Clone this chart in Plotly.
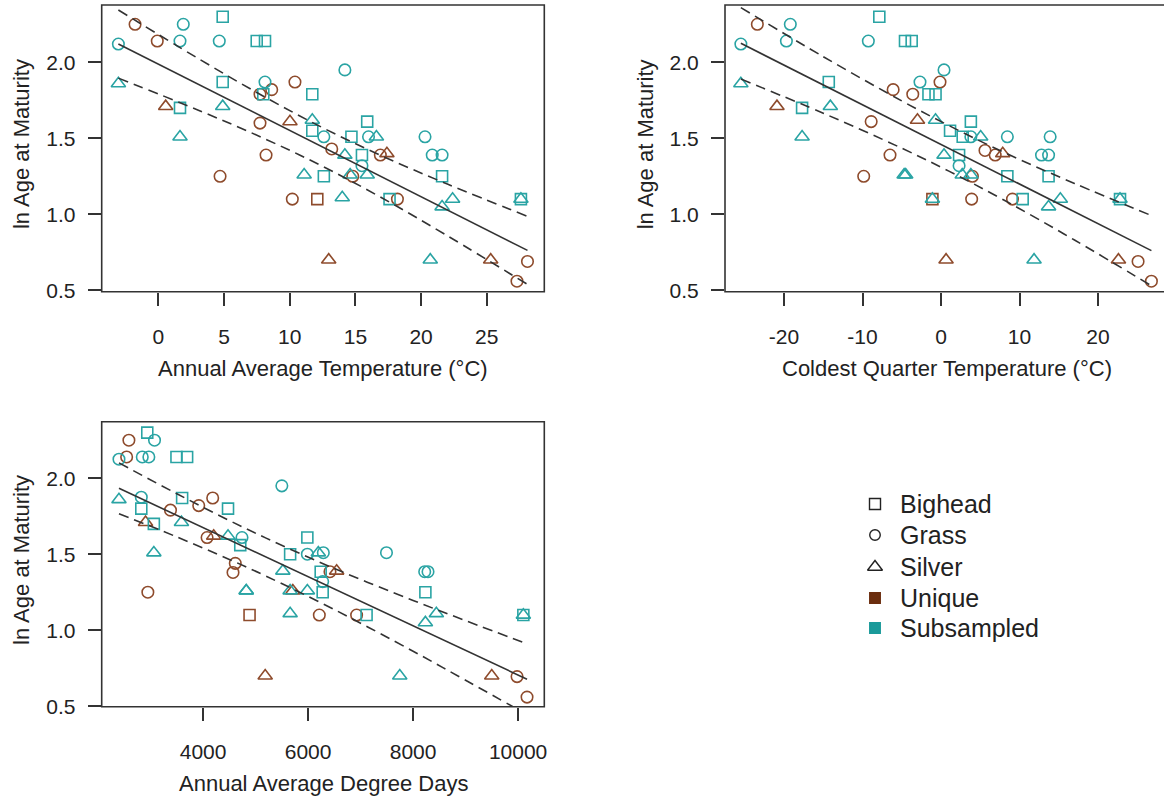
import plotly.graph_objects as go

W, H = 1164, 798

# ---------------- data ----------------
# Panel 1: Annual Average Temperature (°C)
p1_x = [-3.04, -1.77, -0.08, 1.65, 1.90, 4.64, 4.90, 7.49, 8.12, 14.2, 10.4, 8.12, 4.90, 11.72,
        8.63, 7.74, 7.99, -3.04, 0.56, 1.65, 4.90, 1.65, 7.74, 10.02, 11.72, 11.72, 8.2, 4.70,
        12.6, 13.2, 11.1, 12.6, 10.2, 12.1, 14.0, 12.97, 14.7, 15.9, 16.0, 16.6, 14.2, 15.5,
        15.5, 16.9, 17.4, 14.6, 14.8, 15.9, 17.6, 18.2, 22.4, 21.6, 21.6, 20.3, 20.85, 21.6,
        27.6, 27.6, 20.7, 25.3, 28.1, 27.3]
p1_y = [2.12, 2.25, 2.14, 2.14, 2.25, 2.14, 2.30, 2.14, 2.14, 1.95, 1.87, 1.87, 1.87, 1.79,
        1.82, 1.79, 1.79, 1.86, 1.71, 1.70, 1.71, 1.51, 1.60, 1.61, 1.62, 1.55, 1.39, 1.25,
        1.51, 1.43, 1.26, 1.25, 1.10, 1.10, 1.11, 0.70, 1.51, 1.61, 1.51, 1.51, 1.39, 1.39,
        1.32, 1.39, 1.40, 1.26, 1.25, 1.26, 1.10, 1.10, 1.10, 1.05, 1.25, 1.51, 1.39, 1.39,
        1.10, 1.10, 0.70, 0.70, 0.69, 0.56]
p1_species = ["G", "G", "G", "G", "G", "G", "B", "B", "B", "G", "G", "G", "B", "B",
              "G", "G", "B", "S", "S", "B", "S", "S", "G", "S", "S", "B", "G", "G",
              "G", "G", "S", "B", "G", "B", "S", "S", "B", "B", "G", "S", "S", "B",
              "G", "G", "S", "S", "G", "S", "B", "G", "S", "S", "B", "G", "G", "G",
              "B", "S", "S", "S", "G", "G"]
p1_source = ["Sub", "Uni", "Uni", "Sub", "Sub", "Sub", "Sub", "Sub", "Sub", "Sub", "Uni", "Sub", "Sub", "Sub",
             "Uni", "Uni", "Sub", "Sub", "Uni", "Sub", "Sub", "Sub", "Uni", "Uni", "Sub", "Sub", "Uni", "Uni",
             "Sub", "Uni", "Sub", "Sub", "Uni", "Uni", "Sub", "Uni", "Sub", "Sub", "Sub", "Sub", "Sub", "Sub",
             "Sub", "Uni", "Uni", "Sub", "Uni", "Sub", "Sub", "Uni", "Sub", "Sub", "Sub", "Sub", "Sub", "Sub",
             "Sub", "Sub", "Sub", "Uni", "Uni", "Uni"]
p1_fit_x = [-3.04, 28.1]
p1_fit_y = [2.12, 0.763]
p1_band_x = [-3.04, 3.0, 8.0, 12.5, 17.0, 22.0, 28.1]
p1_upper = [2.344, 2.027, 1.777, 1.570, 1.385, 1.199, 0.987]
p1_lower = [1.896, 1.687, 1.501, 1.316, 1.109, 0.859, 0.539]

# Panel 2: Coldest Quarter Temperature (°C)
p2_x = [-25.5, -23.4, -19.2, -19.7, -9.26, -7.86, -4.59, -3.74, -2.68, -1.6, -0.7, -6.1, -3.6,
        -25.5, -20.9, -17.7, -14.3, -14.1, -17.7, -8.9, -3.0, -6.5, -9.85, -4.7, -4.5,
        0.38, -0.13, -0.7, 1.15, 3.8, 2.76, 3.8, 5.05, 8.45, 13.9, 5.6, 6.9, 7.86, 0.38,
        2.3, 2.3, 2.7, 3.8, 4.0, 8.45, 13.7, 12.8, 13.7, -1.1, -1.1, 3.9, 9.1, 10.4, 15.2,
        13.7, 22.8, 22.8, 0.64, 11.85, 22.6, 25.1, 26.8]
p2_y = [2.12, 2.25, 2.25, 2.14, 2.14, 2.30, 2.14, 2.14, 1.87, 1.79, 1.79, 1.82, 1.79,
        1.86, 1.71, 1.70, 1.87, 1.71, 1.51, 1.61, 1.62, 1.39, 1.25, 1.26, 1.26,
        1.95, 1.87, 1.62, 1.55, 1.61, 1.51, 1.51, 1.51, 1.51, 1.51, 1.42, 1.39, 1.40, 1.39,
        1.39, 1.32, 1.26, 1.26, 1.25, 1.25, 1.25, 1.39, 1.39, 1.10, 1.10, 1.10, 1.10, 1.10, 1.10,
        1.05, 1.10, 1.10, 0.70, 0.70, 0.70, 0.69, 0.56]
p2_species = ["G", "G", "G", "G", "G", "B", "B", "B", "G", "B", "B", "G", "G",
              "S", "S", "B", "B", "S", "S", "G", "S", "G", "G", "S", "S",
              "G", "G", "S", "B", "B", "B", "G", "S", "G", "G", "G", "G", "S", "S",
              "B", "G", "S", "S", "G", "B", "B", "G", "G", "B", "S", "G", "G", "B", "S",
              "S", "B", "S", "S", "S", "S", "G", "G"]
p2_source = ["Sub", "Uni", "Sub", "Sub", "Sub", "Sub", "Sub", "Sub", "Sub", "Sub", "Sub", "Uni", "Uni",
             "Sub", "Uni", "Sub", "Sub", "Sub", "Sub", "Uni", "Uni", "Uni", "Uni", "Sub", "Sub",
             "Sub", "Uni", "Sub", "Sub", "Sub", "Sub", "Sub", "Sub", "Sub", "Sub", "Uni", "Uni", "Uni", "Sub",
             "Sub", "Sub", "Sub", "Sub", "Uni", "Sub", "Sub", "Sub", "Sub", "Uni", "Sub", "Uni", "Uni", "Sub", "Sub",
             "Sub", "Sub", "Sub", "Uni", "Sub", "Uni", "Uni", "Uni"]
p2_fit_x = [-25.5, 26.8]
p2_fit_y = [2.125, 0.761]
p2_band_x = [-25.5, -15.0, -5.0, 1.0, 8.0, 17.0, 26.8]
p2_upper = [2.360, 2.037, 1.746, 1.584, 1.408, 1.203, 0.992]
p2_lower = [1.890, 1.665, 1.435, 1.284, 1.094, 0.831, 0.530]

# Panel 3: Annual Average Degree Days
p3_x = [2398, 2587, 2544, 2937, 3075, 2842, 2967, 3493, 3696, 5500, 2823, 3601, 4183, 3917,
        3379, 4475, 2823, 2398, 2904, 3062, 3588, 3062, 2948, 4076, 4202, 4475, 4741, 4708,
        4613, 4570, 4822, 4822, 4885, 5519, 5658, 5986, 5986, 6195, 6290, 7493, 6240, 6278,
        6417, 6544, 5658, 5709, 5986, 5658, 6214, 5183, 6278, 6924, 7114, 8221, 8284, 8234,
        8443, 8234, 10100, 10100, 7746, 9498, 9980, 10170]
p3_y = [2.125, 2.25, 2.14, 2.30, 2.25, 2.14, 2.14, 2.14, 2.14, 1.95, 1.875, 1.87, 1.87, 1.82,
        1.79, 1.80, 1.80, 1.86, 1.71, 1.70, 1.71, 1.51, 1.25, 1.61, 1.62, 1.62, 1.61, 1.56,
        1.44, 1.38, 1.26, 1.26, 1.10, 1.39, 1.50, 1.61, 1.50, 1.51, 1.51, 1.51, 1.385, 1.32,
        1.385, 1.39, 1.26, 1.26, 1.26, 1.11, 1.10, 0.70, 1.25, 1.10, 1.10, 1.385, 1.385, 1.25,
        1.11, 1.05, 1.10, 1.10, 0.70, 0.70, 0.695, 0.56]
p3_species = ["G", "G", "G", "B", "G", "G", "G", "B", "B", "G", "G", "B", "G", "G",
              "G", "B", "B", "S", "S", "B", "S", "S", "G", "G", "S", "S", "G", "B",
              "G", "G", "S", "S", "B", "S", "B", "B", "G", "S", "G", "G", "B", "G",
              "G", "S", "S", "S", "S", "S", "G", "S", "B", "G", "B", "G", "G", "B",
              "S", "S", "B", "S", "S", "S", "G", "G"]
p3_source = ["Sub", "Uni", "Uni", "Sub", "Sub", "Sub", "Sub", "Sub", "Sub", "Sub", "Sub", "Sub", "Uni", "Uni",
             "Uni", "Sub", "Sub", "Sub", "Uni", "Sub", "Sub", "Sub", "Uni", "Uni", "Uni", "Sub", "Sub", "Sub",
             "Uni", "Uni", "Sub", "Sub", "Uni", "Sub", "Sub", "Sub", "Sub", "Sub", "Sub", "Sub", "Sub", "Sub",
             "Uni", "Uni", "Sub", "Uni", "Sub", "Sub", "Uni", "Uni", "Sub", "Uni", "Sub", "Sub", "Sub", "Sub",
             "Sub", "Sub", "Sub", "Sub", "Sub", "Uni", "Uni", "Uni"]
p3_fit_x = [2398, 10170]
p3_fit_y = [1.934, 0.678]
p3_band_x = [2398, 3500, 4500, 5200, 6500, 8000, 9000, 10170]
p3_upper = [2.101, 1.898, 1.722, 1.606, 1.406, 1.196, 1.063, 0.911]
p3_lower = [1.767, 1.614, 1.466, 1.356, 1.136, 0.862, 0.671, 0.445]

y_ticks = [0.5, 1.0, 1.5, 2.0]
y_ticktext = ["0.5", "1.0", "1.5", "2.0"]
p1_xticks = [0, 5, 10, 15, 20, 25]
p1_xticktext = ["0", "5", "10", "15", "20", "25"]
p2_xticks = [-20, -10, 0, 10, 20]
p2_xticktext = ["-20", "-10", "0", "10", "20"]
p3_xticks = [4000, 6000, 8000, 10000]
p3_xticktext = ["4000", "6000", "8000", "10000"]

x_titles = ["Annual Average Temperature (°C)", "Coldest Quarter Temperature (°C)",
            "Annual Average Degree Days"]
y_title = "ln Age at Maturity"
legend_names = ["Bighead", "Grass", "Silver", "Unique", "Subsampled"]

# ---------------- styling ----------------
FONT = "Liberation Sans, Arial, Helvetica, sans-serif"
BROWN = "#8E4B2C"
TEAL = "#2AA4A4"
COL = {"Uni": BROWN, "Sub": TEAL}
SYM = {"B": "square-open", "G": "circle-open", "S": "triangle-up-open"}
SIZE = {"B": 11, "G": 11.5, "S": 12.5}
LINE = "#333333"
TXT = "#222222"

def px_x(p):
    return p / W

def px_y(p):
    return 1 - p / H

# panel boxes in pixels: left, top, right, bottom
boxes = [(101.7, 5.0, 544.3, 291.7), (725.0, 5.0, 1168.0, 291.7), (101.7, 421.7, 544.3, 706.7)]
x_ranges = [[-4.31, 29.38], [-27.52, -27.52 + (W - 725.0) / 7.85], [2069, 10499]]
y_ranges = [[0.491, 2.377], [0.491, 2.377], [0.497, 2.372]]

# legend layout (pixel positions of the key)
leg_marker_px = 875
leg_text_px = 898
leg_rows_px = [504, 535, 567, 598, 628]

fig = go.Figure()

panels = [
    (p1_x, p1_y, p1_species, p1_source, p1_fit_x, p1_fit_y, p1_band_x, p1_upper, p1_lower),
    (p2_x, p2_y, p2_species, p2_source, p2_fit_x, p2_fit_y, p2_band_x, p2_upper, p2_lower),
    (p3_x, p3_y, p3_species, p3_source, p3_fit_x, p3_fit_y, p3_band_x, p3_upper, p3_lower),
]

for i, (xs, ys, sps, srcs, fx, fy, bx, bu, bl) in enumerate(panels):
    xa = "x" if i == 0 else f"x{i+1}"
    ya = "y" if i == 0 else f"y{i+1}"
    for src in ["Uni", "Sub"]:
        for sp in ["B", "G", "S"]:
            sx = [x for x, s, g in zip(xs, sps, srcs) if s == sp and g == src]
            sy = [y for y, s, g in zip(ys, sps, srcs) if s == sp and g == src]
            if not sx:
                continue
            fig.add_trace(go.Scatter(
                x=sx, y=sy, mode="markers", xaxis=xa, yaxis=ya, showlegend=False,
                hoverinfo="skip",
                marker=dict(symbol=SYM[sp], size=SIZE[sp], color=COL[src],
                            line=dict(width=1.6, color=COL[src]))))
    fig.add_trace(go.Scatter(x=fx, y=fy, mode="lines", xaxis=xa, yaxis=ya, showlegend=False,
                             hoverinfo="skip", line=dict(color=LINE, width=1.6)))
    for band in (bu, bl):
        fig.add_trace(go.Scatter(x=bx, y=band, mode="lines", xaxis=xa, yaxis=ya, showlegend=False,
                                 hoverinfo="skip",
                                 line=dict(color=LINE, width=1.6, dash="10px,6px",
                                           shape="spline", smoothing=1.0)))

# custom key (drawn on a hidden full-page axis pair measured in pixels)
leg_sym = ["square-open", "circle-open", "triangle-up-open", "square", "square"]
leg_col = [TXT, TXT, TXT, "#6B2D0E", "#1A9A9A"]
leg_size = [11, 10.5, 13, 10.5, 10.5]
for name, sym, c, s, ry in zip(legend_names, leg_sym, leg_col, leg_size, leg_rows_px):
    fig.add_trace(go.Scatter(x=[leg_marker_px], y=[ry], mode="markers", xaxis="x4", yaxis="y4",
                             showlegend=False, hoverinfo="skip",
                             marker=dict(symbol=sym, size=s, color=c, line=dict(width=1.4, color=c))))

common_axis = dict(showgrid=False, zeroline=False, showline=False, ticks="outside", ticklen=13,
                   tickwidth=1.5, tickcolor=LINE, tickfont=dict(size=21, color=TXT, family=FONT),
                   automargin=False)

layout_axes = {}
xtickss = [p1_xticks, p2_xticks, p3_xticks]
xticktexts = [p1_xticktext, p2_xticktext, p3_xticktext]
for i, (l, t, r, b) in enumerate(boxes):
    sfx = "" if i == 0 else str(i + 1)
    layout_axes["xaxis" + sfx] = dict(common_axis, domain=[px_x(l), min(1.0, px_x(r))],
                                      range=x_ranges[i], tickmode="array", tickvals=xtickss[i],
                                      ticktext=xticktexts[i], ticklabelstandoff=13, anchor="y" + sfx)
    layout_axes["yaxis" + sfx] = dict(common_axis, domain=[px_y(b), px_y(t)], range=y_ranges[i],
                                      tickmode="array", tickvals=y_ticks, ticktext=y_ticktext,
                                      ticklabelstandoff=8, anchor="x" + sfx)
layout_axes["xaxis4"] = dict(domain=[0, 1], range=[0, W], visible=False, anchor="y4", fixedrange=True)
layout_axes["yaxis4"] = dict(domain=[0, 1], range=[H, 0], visible=False, anchor="x4", fixedrange=True)

shapes = []
annotations = []
for i, (l, t, r, b) in enumerate(boxes):
    shapes.append(dict(type="rect", xref="paper", yref="paper", x0=px_x(l), x1=px_x(r),
                       y0=px_y(b), y1=px_y(t), line=dict(color=LINE, width=1.6), layer="above"))
    annotations.append(dict(text=x_titles[i], xref="paper", yref="paper",
                            x=px_x((l + r) / 2), y=px_y(b + 77), xanchor="center",
                            yanchor="middle", showarrow=False, font=dict(size=22, color=TXT, family=FONT)))
    annotations.append(dict(text=y_title, xref="paper", yref="paper", x=px_x(l - 80),
                            y=px_y((t + b) / 2 - 4), xanchor="center", yanchor="middle", textangle=-90,
                            showarrow=False, font=dict(size=22, color=TXT, family=FONT)))
for name, ry in zip(legend_names, leg_rows_px):
    annotations.append(dict(text=name, xref="paper", yref="paper", x=px_x(leg_text_px), y=px_y(ry),
                            xanchor="left", yanchor="middle", showarrow=False,
                            font=dict(size=25, color=TXT, family=FONT)))

fig.update_layout(
    width=W, height=H, margin=dict(l=0, r=0, t=0, b=0, pad=0, autoexpand=False),
    paper_bgcolor="white", plot_bgcolor="rgba(0,0,0,0)",
    font=dict(family=FONT, color=TXT),
    shapes=shapes, annotations=annotations,
    showlegend=False,
    **layout_axes,
)

page_css = ("var s=document.createElement('style');"
            "s.textContent='html,body{margin:0;padding:0;overflow:hidden;}';"
            "document.head.appendChild(s);")
fig.write_html("out.html", post_script=page_css)
